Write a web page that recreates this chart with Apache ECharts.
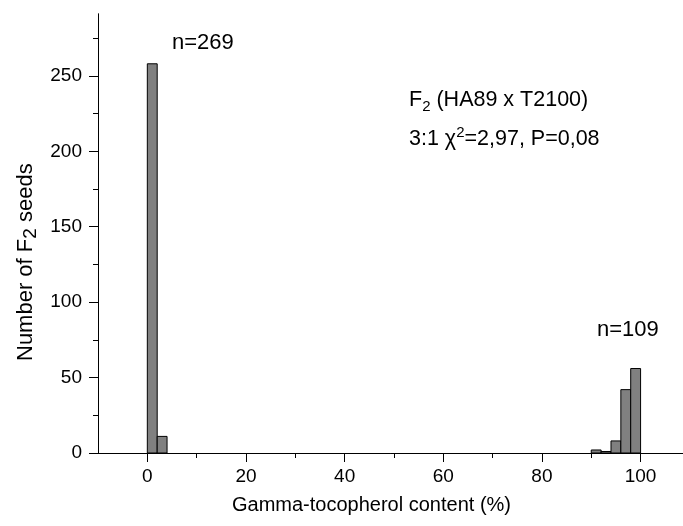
<!DOCTYPE html>
<html>
<head>
<meta charset="utf-8">
<script src="https://cdn.jsdelivr.net/npm/echarts@6/dist/echarts.min.js"></script>
<style>
  html, body { margin: 0; padding: 0; background: #fff; }
  #main { width: 683px; height: 526px; }
</style>
</head>
<body>
<div id="main"></div>
<script>
// histogram bins (left edge, width 2 %) and seed counts
var binLeft = [0, 2, 90, 92, 94, 96, 98];
var binWidth = 2;
var counts = [258, 11, 2, 1, 8, 42, 56];

var xMajor = [0, 20, 40, 60, 80, 100];
var xMinor = [10, 30, 50, 70, 90];
var yMajor = [0, 50, 100, 150, 200, 250];
var yMinor = [25, 75, 125, 175, 225, 275];

var font = 'Liberation Sans, Arial, sans-serif';
var chart = echarts.init(document.getElementById('main'));

var bins = binLeft.map(function (x, i) { return [x, counts[i]]; });

function axisX(ticks, len, labels) {
  return {
    type: 'value', min: -10, max: 108.6, position: 'bottom',
    axisLine: { show: true, onZero: false, lineStyle: { color: '#000', width: 1 } },
    axisTick: { show: true, inside: false, length: len, customValues: ticks, lineStyle: { color: '#000' } },
    axisLabel: labels ? { show: true, customValues: ticks, margin: 14, color: '#000', fontSize: 19, fontFamily: font } : { show: false },
    splitLine: { show: false }
  };
}
function axisY(ticks, len, labels) {
  return {
    type: 'value', min: 0, max: 291, position: 'left',
    axisLine: { show: true, onZero: false, lineStyle: { color: '#000', width: 1 } },
    axisTick: { show: true, inside: false, length: len, customValues: ticks, lineStyle: { color: '#000' } },
    axisLabel: labels ? { show: true, customValues: ticks, margin: 16, color: '#000', fontSize: 19, fontFamily: font } : { show: false },
    splitLine: { show: false }
  };
}

var option = {
  animation: false,
  backgroundColor: '#fff',
  grid: { left: 98, right: 0, top: 14, bottom: 73 },
  xAxis: [axisX(xMajor, 9, true), axisX(xMinor, 5, false)],
  yAxis: [axisY(yMajor, 9, true), axisY(yMinor, 5, false)],
  graphic: [
    {
      type: 'text', left: 232, top: 495,
      style: { text: 'Gamma-tocopherol content (%)', fill: '#000', font: '20px ' + font }
    },
    {
      type: 'text', x: 11, y: 361, rotation: Math.PI / 2,
      style: {
        text: '{a|Number of F}{s|2}{a| seeds}', fill: '#000',
        rich: {
          a: { fontSize: 22, fontFamily: font, fill: '#000' },
          s: { fontSize: 19, fontFamily: font, fill: '#000', padding: [10, 0, 0, 0] }
        }
      }
    },
    {
      type: 'text', left: 172, top: 32,
      style: { text: 'n=269', fill: '#000', font: '22px ' + font }
    },
    {
      type: 'text', left: 597, top: 319,
      style: { text: 'n=109', fill: '#000', font: '22px ' + font }
    },
    {
      type: 'text', left: 409, top: 89,
      style: {
        text: '{a|F}{s|2}{a| (HA89 x T2100)}', fill: '#000',
        rich: {
          a: { fontSize: 21.5, fontFamily: font, fill: '#000' },
          s: { fontSize: 15, fontFamily: font, fill: '#000', padding: [13, 0, 0, 0] }
        }
      }
    },
    {
      type: 'text', left: 409, top: 125,
      style: {
        text: '{a|3:1 χ}{p|2}{a|=2,97, P=0,08}', fill: '#000',
        rich: {
          a: { fontSize: 21.5, fontFamily: font, fill: '#000' },
          p: { fontSize: 15, fontFamily: font, fill: '#000', padding: [0, 0, 14, 0] }
        }
      }
    }
  ],
  series: [{
    type: 'custom',
    xAxisIndex: 0,
    yAxisIndex: 0,
    data: bins,
    renderItem: function (params, api) {
      var x0 = api.value(0);
      var p0 = api.coord([x0, 0]);
      var p1 = api.coord([x0 + binWidth, api.value(1)]);
      return {
        type: 'rect',
        shape: { x: p0[0], y: p1[1], width: p1[0] - p0[0], height: p0[1] - p1[1] },
        style: { fill: '#808080', stroke: '#000', lineWidth: 1 }
      };
    }
  }]
};
chart.setOption(option);
</script>
</body>
</html>
